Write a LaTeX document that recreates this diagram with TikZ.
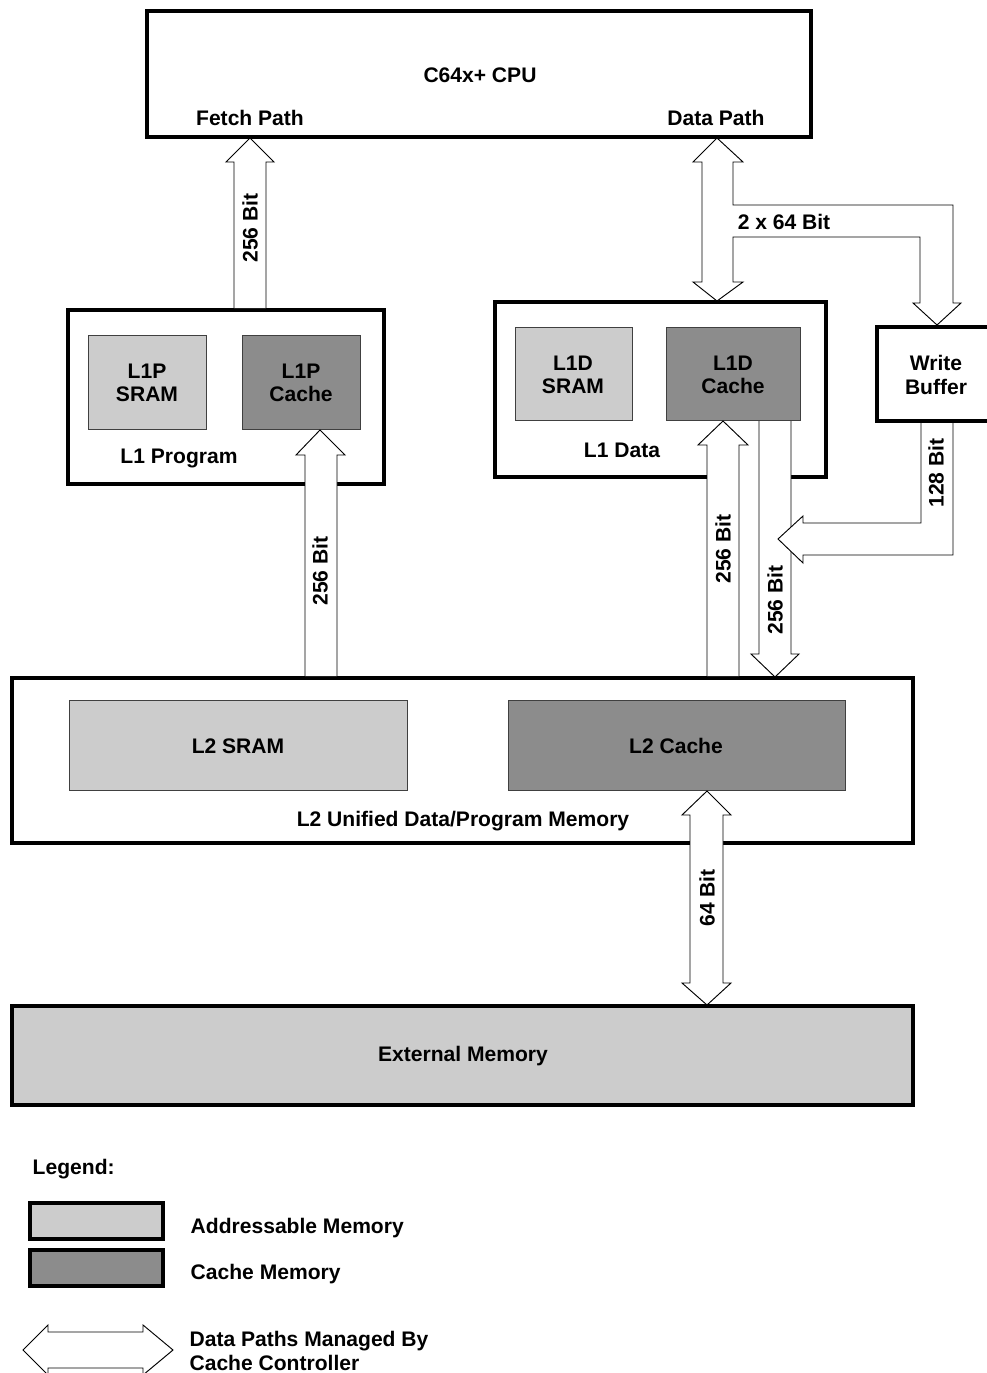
\documentclass[tikz,border=0pt]{standalone}
\usepackage{fontspec}
\setmainfont{Liberation Sans}
\definecolor{lightmem}{HTML}{CCCCCC}
\definecolor{darkmem}{HTML}{8C8C8C}
\tikzset{
    memblock/.style = {draw=black, line width=2.4pt},
    addrmem/.style = {draw=black!75, line width=0.6pt, fill=lightmem},
    cachemem/.style = {draw=black!75, line width=0.6pt, fill=darkmem},
    datapath/.style = {draw=black, line width=0.7pt, fill=white, line join=miter},
    buslabel/.style = {rotate=90},
}
\begin{document}
\begin{tikzpicture}[x=0.75pt, y=-0.75pt,
                    every node/.style={font=\fontsize{15.8}{17.5}\selectfont\bfseries, align=center}]
    \useasboundingbox (0, 0) rectangle (986, 1373);
    % memory blocks
    \draw [memblock] (147, 11) rectangle (811, 137);
    \draw [memblock] (68, 310) rectangle (384, 484);
    \draw [addrmem] (88, 335) rectangle (206, 429);
    \draw [cachemem] (242, 335) rectangle (360, 429);
    \draw [memblock] (495, 302) rectangle (826, 477);
    \draw [addrmem] (515, 327) rectangle (632, 420);
    \draw [cachemem] (666, 327) rectangle (800, 420);
    \draw [memblock] (877, 327) rectangle (990, 421);
    \draw [memblock] (12, 678) rectangle (913, 843);
    \draw [addrmem] (69, 700) rectangle (407, 790);
    \draw [cachemem] (508, 700) rectangle (845, 790);
    \draw [memblock, fill=lightmem] (12, 1006) rectangle (913, 1105);
    % block texts
    \node (cpu) at (480, 75) {C64x+ CPU};
    \node (fetch) at (250, 118) {Fetch Path};
    \node (datap) at (716, 118) {Data Path};
    \node (l1psram) at (147, 383) {L1P\\SRAM};
    \node (l1pcache) at (301, 383) {L1P\\Cache};
    \node (l1prog) at (179, 458) {L1 Program};
    \node (l1dsram) at (573, 375) {L1D\\SRAM};
    \node (l1dcache) at (733, 375) {L1D\\Cache};
    \node (l1data) at (622, 450) {L1 Data};
    \node (wbuf) at (936, 375) {Write\\Buffer};
    \node (l2sram) at (238, 746) {L2 SRAM};
    \node (l2cache) at (676, 746) {L2 Cache};
    \node (l2mem) at (463, 821) {L2 Unified Data/Program Memory};
    \node (extmem) at (463, 1056) {External Memory};
    % data paths
    \draw [datapath] (234, 308) -- (234, 162) -- (226, 162) -- (250, 138) -- (274, 162) -- (266, 162) -- (266, 308);
    \draw [datapath] (717, 138) -- (743, 162) -- (733, 162) -- (733, 205) -- (953, 205) -- (953, 303) -- (961, 303)
                     -- (937, 325) -- (913, 303) -- (920, 303) -- (920, 237) -- (733, 237) -- (733, 282) -- (743, 282)
                     -- (717, 301) -- (693, 282) -- (702, 282) -- (702, 162) -- (693, 162) -- cycle;
    \draw [datapath] (305, 676) -- (305, 455) -- (296, 455) -- (320, 430) -- (345, 455) -- (337, 455) -- (337, 676);
    \fill [white] (739, 470) rectangle (759, 484);
    \draw [datapath] (707, 676) -- (707, 445) -- (698, 445) -- (723, 421) -- (748, 445) -- (739, 445) -- (739, 676);
    \draw [datapath] (759, 421) -- (759, 654) -- (751, 654) -- (775, 677) -- (799, 654) -- (791, 654) -- (791, 421);
    \draw [datapath] (921, 423) -- (921, 523) -- (803, 523) -- (803, 516) -- (778, 539) -- (803, 563) -- (803, 555)
                     -- (953, 555) -- (953, 423);
    \draw [datapath] (707, 791) -- (731, 815) -- (723, 815) -- (723, 983) -- (731, 983) -- (707, 1005) -- (682, 983)
                     -- (690, 983) -- (690, 815) -- (682, 815) -- cycle;
    % bus widths
    \node [buslabel] (fetchbus) at (250, 228) {256 Bit};
    \node (databus) at (784, 222) {2 x 64 Bit};
    \node [buslabel] (l1pbus) at (320, 571) {256 Bit};
    \node [buslabel] (l1dbusup) at (723, 549) {256 Bit};
    \node [buslabel] (l1dbusdown) at (775, 600) {256 Bit};
    \node [buslabel] (wbufbus) at (936, 473) {128 Bit};
    \node [buslabel] (extbus) at (707, 898) {64 Bit};
    % legend
    \node [anchor=west] (legend) at (28, 1169) {Legend:};
    \draw [memblock, fill=lightmem] (30, 1203) rectangle (163, 1239);
    \draw [memblock, fill=darkmem] (30, 1250) rectangle (163, 1286);
    \draw [datapath] (23, 1350) -- (48, 1325) -- (48, 1332) -- (143, 1332) -- (143, 1325) -- (173, 1350) -- (143, 1375)
                     -- (143, 1368) -- (48, 1368) -- (48, 1375) -- cycle;
    \node [anchor=west] (addrtext) at (186, 1228) {Addressable Memory};
    \node [anchor=west] (cachetext) at (186, 1274) {Cache Memory};
    \node [anchor=west, align=left, inner sep=1pt] (pathtext) at (188, 1351) {Data Paths Managed By\\Cache Controller};
\end{tikzpicture}
\end{document}
